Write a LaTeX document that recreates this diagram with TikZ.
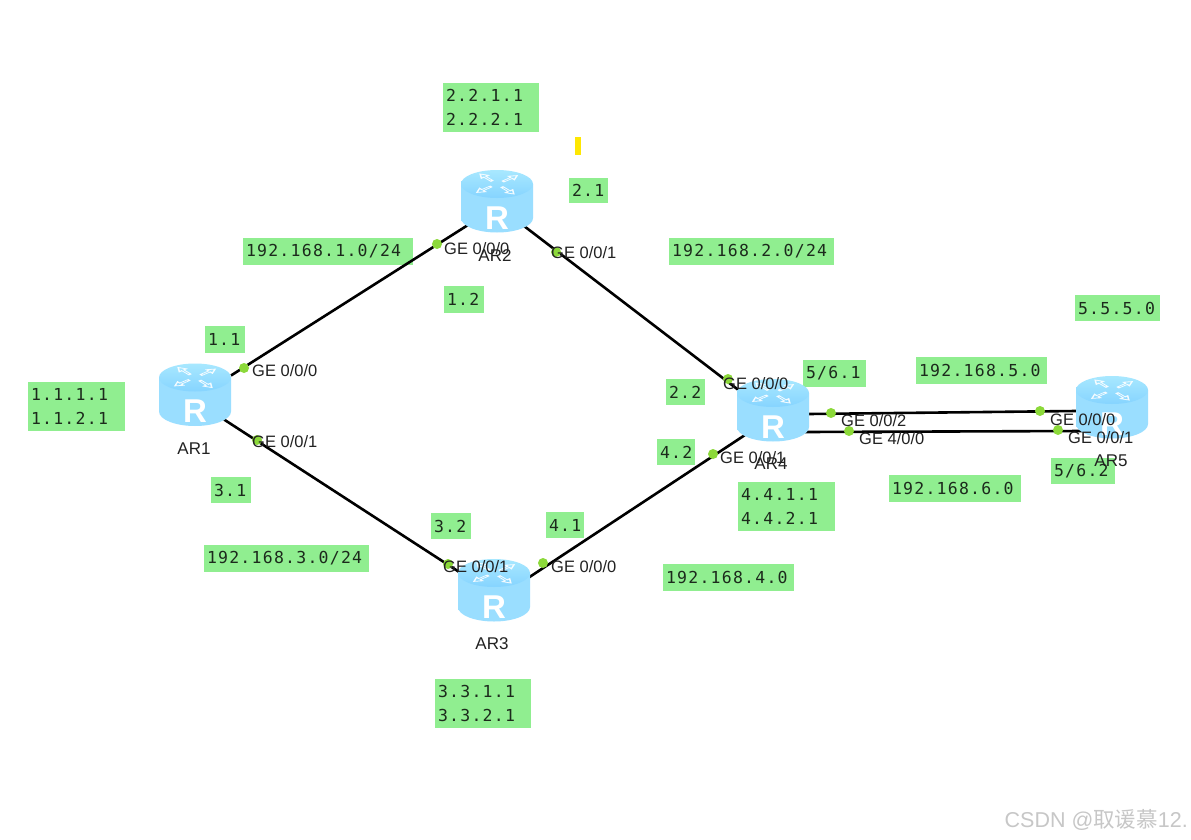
\documentclass[tikz,border=0pt]{standalone}
\usepackage{fontspec}
\setmainfont{Liberation Sans}
\newfontfamily\lblfont[LetterSpace=7.5]{DejaVu Sans Mono}
\newfontfamily\cjkwm{Noto Sans CJK SC}
\definecolor{boxgreen}{HTML}{90EE90}
\definecolor{dotgreen}{HTML}{8CD93A}
\definecolor{portink}{HTML}{222222}
\definecolor{inkbox}{HTML}{1C2A1C}
\definecolor{rtop}{HTML}{A8E8FF}
\definecolor{rtopb}{HTML}{86D4FF}
\definecolor{rside}{HTML}{9ADEFF}
\definecolor{rmid}{HTML}{74C6FB}
\tikzset{
  lbl/.style={fill=boxgreen,inner xsep=3pt,inner ysep=0pt,align=left,text=inkbox,
    font=\lblfont\fontsize{16.5}{24}\selectfont},
  bw/.style={minimum width=#1,text width=#1-6pt},
  lk/.style={draw=black,line width=2.6pt},
  portdot/.style={circle,fill=dotgreen,inner sep=0pt,minimum size=10pt},
  port/.style={anchor=west,inner sep=0pt,text=portink,font=\fontsize{16.5}{18}\selectfont},
  rname/.style={inner sep=0pt,text=portink,font=\fontsize{17}{18}\selectfont},
  rslot/.style={inner sep=0pt,minimum width=72pt,minimum height=63pt},
  rletter/.style={inner sep=0pt,text=white,font=\bfseries\fontsize{33}{33}\selectfont},
  rarrow/.style={fill=white,draw=none,opacity=.9,even odd rule}
}
\newcommand{\routerart}[1]{%
  \begin{scope}[shift={(#1.center)}]
    \path[left color=rside,middle color=rmid,right color=rside]
      (-36,-17) -- (-36,17) arc[start angle=180,end angle=0,x radius=36,y radius=14.5]
      -- (36,-17) -- cycle;
    \path[top color=rtop,bottom color=rtopb]
      (0,-17) ellipse[x radius=36,y radius=14];
    \begin{scope}[shift={(0,-17)},yscale=.5,scale=1.2]
      \foreach \a in {40,130,220,310}{
        \path[rarrow,rotate=\a]
          (6,-1.6) -- (15,-1.6) -- (15,-5) -- (23,0) -- (15,5) -- (15,1.6) -- (6,1.6) -- cycle
          (8,-.6) -- (8,.6) -- (16.5,.6) -- (16.5,2.6) -- (20.5,0) -- (16.5,-2.6)
          -- (16.5,-.6) -- cycle;
      }
    \end{scope}
    \node[rletter] at (0,17) {R};
  \end{scope}}
\begin{document}
\begin{tikzpicture}[x=1pt,y=-1pt]
\path[use as bounding box,fill=white] (0,0) rectangle (1191,840);

% green address boxes
\node[lbl,bw=96pt,minimum height=49pt] (b22) at (491,107.5) {2.2.1.1\\2.2.2.1};
\node[lbl,bw=39pt,minimum height=25pt] (b21) at (588.5,190.5) {2.1};
\node[lbl,bw=165pt,minimum height=27pt] (n2) at (751.5,251.5) {192.168.2.0/24};
\node[lbl,bw=170pt,minimum height=27pt] (n1) at (328,251.5) {192.168.1.0/24};
\node[lbl,bw=40pt,minimum height=27pt] (b12) at (464,299.5) {1.2};
\node[lbl,bw=40pt,minimum height=27pt] (b11) at (225,339.5) {1.1};
\node[lbl,bw=97pt,minimum height=49pt] (b1) at (76.5,406.5) {1.1.1.1\\1.1.2.1};
\node[lbl,bw=40pt,minimum height=26pt] (b31) at (231,490) {3.1};
\node[lbl,bw=165pt,minimum height=27pt] (n3) at (286.5,558.5) {192.168.3.0/24};
\node[lbl,bw=40pt,minimum height=26pt] (b32) at (451,526) {3.2};
\node[lbl,bw=38pt,minimum height=26pt] (b41) at (565,525) {4.1};
\node[lbl,bw=38pt,minimum height=26pt] (b42) at (676,452) {4.2};
\node[lbl,bw=39pt,minimum height=26pt] (b22b) at (685.5,392) {2.2};
\node[lbl,bw=63pt,minimum height=27pt] (b561) at (834.5,373.5) {5/6.1};
\node[lbl,bw=131pt,minimum height=27pt] (n5) at (981.5,370.5) {192.168.5.0};
\node[lbl,bw=85pt,minimum height=26pt] (b5) at (1117.5,308) {5.5.5.0};
\node[lbl,bw=64pt,minimum height=26pt] (b562) at (1083,471) {5/6.2};
\node[lbl,bw=132pt,minimum height=27pt] (n6) at (955,488.5) {192.168.6.0};
\node[lbl,bw=97pt,minimum height=49pt] (b4) at (786.5,506.5) {4.4.1.1\\4.4.2.1};
\node[lbl,bw=131pt,minimum height=27pt] (n4) at (728.5,577.5) {192.168.4.0};
\node[lbl,bw=96pt,minimum height=49pt] (b3) at (483,703.5) {3.3.1.1\\3.3.2.1};
\node[fill=yellow!90!orange,inner sep=0pt,minimum width=6pt,minimum height=18pt] (mark) at (578,146) {};

% router slots
\node[rslot] (ar1) at (195,394.5) {};
\node[rslot] (ar2) at (497,201) {};
\node[rslot] (ar3) at (494,590) {};
\node[rslot] (ar4) at (773,410) {};
\node[rslot] (ar5) at (1112,407) {};

% links
\draw[lk] ([shift={(36,-19)}]ar1.center) -- ([shift={(-29,24)}]ar2.center);
\draw[lk] ([shift={(29,25)}]ar1.center) -- ([shift={(-24,-11)}]ar3.center);
\draw[lk] ([shift={(27,25)}]ar2.center) -- ([shift={(-28,-15)}]ar4.center);
\draw[lk] ([shift={(31,-10)}]ar3.center) -- ([shift={(-28,25)}]ar4.center);
\draw[lk] ([shift={(36,4)}]ar4.center) -- ([shift={(-36,4)}]ar5.center);
\draw[lk] ([shift={(32,22)}]ar4.center) -- ([shift={(-27,24)}]ar5.center);

% routers
\routerart{ar1}\routerart{ar2}\routerart{ar3}\routerart{ar4}\routerart{ar5}

% port dots
\foreach \n/\x/\y in {d1/244/368,d2/257/440,d3/437/244,d4/556/252,d5/448/564,d6/543/563,
  d7/728/379,d8/713/454,d9/831/413,d10/849/431,d11/1040/411,d12/1058/430}
  \node[portdot] (\n) at (\x,\y) {};

% port labels
\node[port] (l1) at (252,371) {GE 0/0/0};
\node[port] (l2) at (252,442) {GE 0/0/1};
\node[port] (l3) at (444,249) {GE 0/0/0};
\node[port] (l4) at (551,253) {GE 0/0/1};
\node[port] (l5) at (443,567) {GE 0/0/1};
\node[port] (l6) at (551,567) {GE 0/0/0};
\node[port] (l7) at (723,384) {GE 0/0/0};
\node[port] (l8) at (720,458) {GE 0/0/1};
\node[port] (l9) at (841,421) {GE 0/0/2};
\node[port] (l10) at (859,439) {GE 4/0/0};
\node[port] (l11) at (1050,420) {GE 0/0/0};
\node[port] (l12) at (1068,438) {GE 0/0/1};

% router names
\node[rname] (t1) at (194,449) {AR1};
\node[rname] (t2) at (495,256) {AR2};
\node[rname] (t3) at (492,644) {AR3};
\node[rname] (t4) at (771,464) {AR4};
\node[rname] (t5) at (1111,461) {AR5};

% watermark
\node[inner sep=0pt,anchor=east,text=black!22,font=\fontsize{21.5}{24}\selectfont] (wm) at (1188,820)
  {CSDN @{\cjkwm 取谖慕}12.};
\end{tikzpicture}
\end{document}
